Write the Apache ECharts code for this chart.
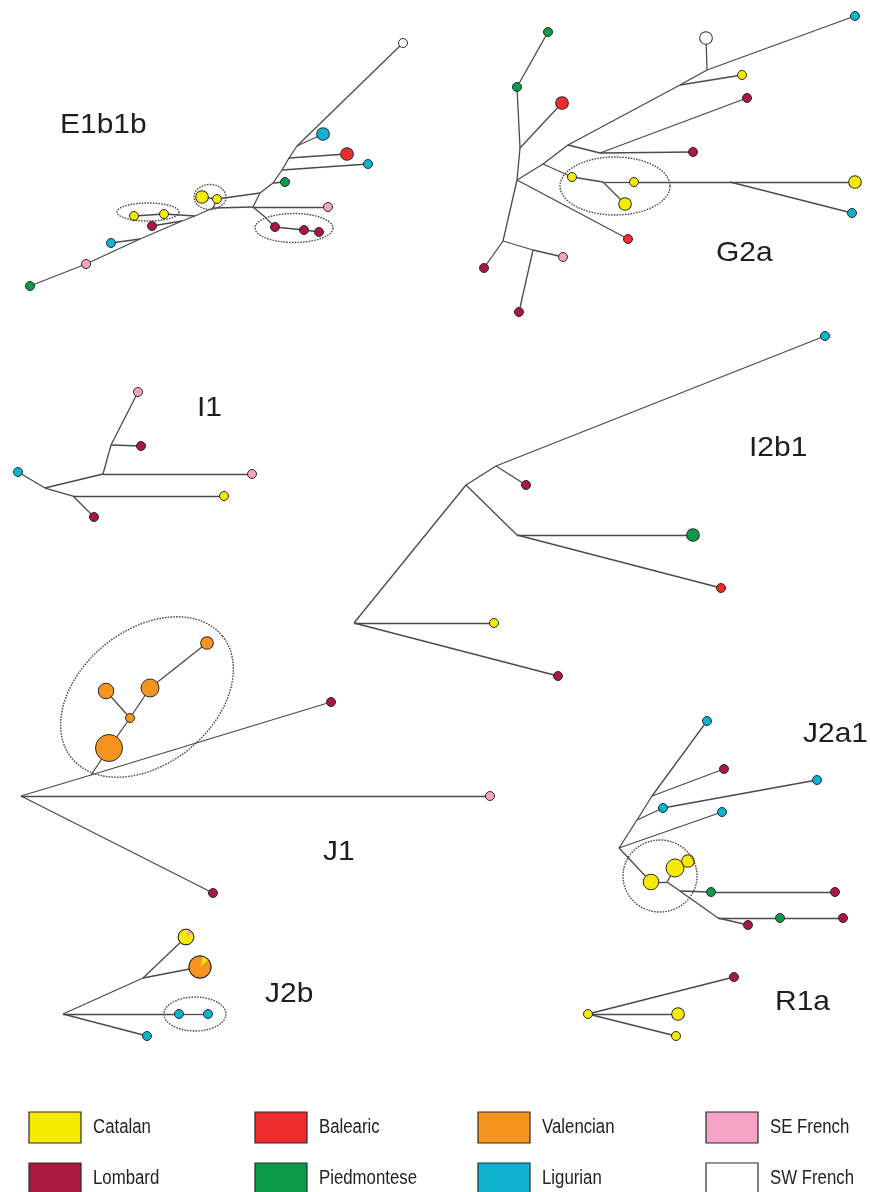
<!DOCTYPE html>
<html>
<head>
<meta charset="utf-8">
<script src="https://cdn.jsdelivr.net/npm/echarts@6/dist/echarts.min.js"></script>
<style>
  html, body { margin: 0; padding: 0; background: #ffffff; }
  #chart { width: 870px; height: 1192px; }
</style>
</head>
<body>
<div id="chart"></div>
<script>
// Populations shown in the key, column by column (two rows of four)
const POPULATIONS = ['Catalan', 'Lombard', 'Balearic', 'Piedmontese', 'Valencian', 'Ligurian', 'SE French', 'SW French'];

const PALETTE = {
  'Catalan': '#f6ea00',
  'Balearic': '#ee2b2d',
  'Valencian': '#f79420',
  'SE French': '#f5a3c7',
  'Lombard': '#a8183f',
  'Piedmontese': '#0a9a48',
  'Ligurian': '#0cb2cf',
  'SW French': '#ffffff'
};

// Haplotype networks: [id, x, y, haplotype count, population]; count 0 = median vector
const E1B1B_NODES = [
  ['w', 403, 43, 1, 'SW French'], ['j1', 297, 146, 0], ['c1', 323, 134, 2, 'Ligurian'],
  ['j2', 289, 158, 0], ['r1', 347, 154, 2, 'Balearic'], ['j3', 282, 170, 0],
  ['c2', 368, 164, 1, 'Ligurian'], ['j4', 273, 183, 0], ['g1', 285, 182, 1, 'Piedmontese'],
  ['j5', 260, 193, 0], ['y1', 217, 199, 1, 'Catalan'], ['y2', 202, 197, 2, 'Catalan'],
  ['j6', 253, 207, 0], ['p1', 328, 207, 1, 'SE French'], ['j7', 265, 217, 0],
  ['l1', 275, 227, 1, 'Lombard'], ['l2', 304, 230, 1, 'Lombard'], ['l3', 319, 232, 1, 'Lombard'],
  ['j8', 213, 208, 0], ['j9', 195, 216, 0], ['y3', 164, 214, 1, 'Catalan'],
  ['y4', 134, 216, 1, 'Catalan'], ['j10', 182, 221, 0], ['l4', 152, 226, 1, 'Lombard'],
  ['j11', 140, 239, 0], ['c3', 111, 243, 1, 'Ligurian'], ['p2', 86, 264, 1, 'SE French'],
  ['g2', 30, 286, 1, 'Piedmontese']
];
const E1B1B_LINKS = [
  ['w', 'j1'], ['j1', 'c1'], ['j1', 'j2'], ['j2', 'r1'], ['j2', 'j3'], ['j3', 'c2'],
  ['j3', 'j4'], ['j4', 'g1'], ['j4', 'j5'], ['j5', 'y1'], ['y1', 'y2'], ['j5', 'j6'],
  ['j6', 'p1'], ['j6', 'j7'], ['j7', 'l1'], ['l1', 'l2'], ['l2', 'l3'], ['j6', 'j8'],
  ['y1', 'j8'], ['j8', 'j9'], ['j9', 'y3'], ['y3', 'y4'], ['j9', 'j10'], ['j10', 'l4'],
  ['j10', 'j11'], ['j11', 'c3'], ['j11', 'p2'], ['p2', 'g2']
];

const G2A_NODES = [
  ['g1', 548, 32, 1, 'Piedmontese'], ['g2', 517, 87, 1, 'Piedmontese'], ['j1', 520, 148, 0],
  ['r1', 562, 103, 2, 'Balearic'], ['h', 517, 180, 0], ['j2', 543, 164, 0], ['j3', 568, 145, 0],
  ['j4', 680, 85, 0], ['y1', 742, 75, 1, 'Catalan'], ['j5', 707, 70, 0],
  ['w', 706, 38, 2, 'SW French'], ['c1', 855, 16, 1, 'Ligurian'], ['j6', 600, 153, 0],
  ['l1', 747, 98, 1, 'Lombard'], ['l2', 693, 152, 1, 'Lombard'], ['y2', 572, 177, 1, 'Catalan'],
  ['j7', 603, 182, 0], ['y3', 634, 182, 1, 'Catalan'], ['y4', 625, 204, 2, 'Catalan'],
  ['j8', 730, 182, 0], ['y5', 855, 182, 2, 'Catalan'], ['c2', 852, 213, 1, 'Ligurian'],
  ['r2', 628, 239, 1, 'Balearic'], ['j9', 503, 241, 0], ['l3', 484, 268, 1, 'Lombard'],
  ['j10', 533, 250, 0], ['p1', 563, 257, 1, 'SE French'], ['l4', 519, 312, 1, 'Lombard']
];
const G2A_LINKS = [
  ['g1', 'g2'], ['g2', 'j1'], ['j1', 'r1'], ['j1', 'h'], ['h', 'j2'], ['j2', 'j3'],
  ['j3', 'j4'], ['j4', 'y1'], ['j4', 'j5'], ['j5', 'w'], ['j5', 'c1'], ['j3', 'j6'],
  ['j6', 'l1'], ['j6', 'l2'], ['j2', 'y2'], ['y2', 'j7'], ['j7', 'y3'], ['y3', 'j8'],
  ['j8', 'y5'], ['j8', 'c2'], ['j7', 'y4'], ['h', 'r2'], ['h', 'j9'], ['j9', 'l3'],
  ['j9', 'j10'], ['j10', 'p1'], ['j10', 'l4']
];

const I1_NODES = [
  ['p1', 138, 392, 1, 'SE French'], ['l1', 141, 446, 1, 'Lombard'], ['j1', 111, 445, 0],
  ['j2', 103, 474, 0], ['p2', 252, 474, 1, 'SE French'], ['c1', 18, 472, 1, 'Ligurian'],
  ['j3', 45, 488, 0], ['j4', 73, 496, 0], ['y1', 224, 496, 1, 'Catalan'],
  ['l2', 94, 517, 1, 'Lombard']
];
const I1_LINKS = [
  ['c1', 'j3'], ['j3', 'j2'], ['j2', 'j1'], ['j1', 'p1'], ['j1', 'l1'], ['j2', 'p2'],
  ['j3', 'j4'], ['j4', 'y1'], ['j4', 'l2']
];

const I2B1_NODES = [
  ['c1', 825, 336, 1, 'Ligurian'], ['j1', 496, 466, 0], ['l1', 526, 485, 1, 'Lombard'],
  ['j2', 466, 485, 0], ['j3', 517, 535, 0], ['g1', 693, 535, 2, 'Piedmontese'],
  ['r1', 721, 588, 1, 'Balearic'], ['h', 354, 623, 0], ['y1', 494, 623, 1, 'Catalan'],
  ['l2', 558, 676, 1, 'Lombard']
];
const I2B1_LINKS = [
  ['h', 'j2'], ['j2', 'j1'], ['j1', 'c1'], ['j1', 'l1'], ['j2', 'j3'], ['j3', 'g1'],
  ['j3', 'r1'], ['h', 'y1'], ['h', 'l2']
];

const J1_NODES = [
  ['h', 21, 796, 0], ['j1', 91, 775, 0], ['l1', 331, 702, 1, 'Lombard'],
  ['p1', 490, 796, 1, 'SE French'], ['l2', 213, 893, 1, 'Lombard'],
  ['v1', 109, 748, 9, 'Valencian'], ['v2', 130, 718, 1, 'Valencian'],
  ['v3', 106, 691, 3, 'Valencian'], ['v4', 150, 688, 4, 'Valencian'],
  ['v5', 207, 643, 2, 'Valencian']
];
const J1_LINKS = [
  ['h', 'j1'], ['j1', 'l1'], ['h', 'p1'], ['h', 'l2'], ['j1', 'v1'], ['v1', 'v2'],
  ['v2', 'v3'], ['v2', 'v4'], ['v4', 'v5']
];

const J2A1_NODES = [
  ['h', 619, 848, 0], ['j1', 637, 820, 0], ['j2', 652, 796, 0],
  ['c1', 707, 721, 1, 'Ligurian'], ['l1', 724, 769, 1, 'Lombard'], ['c2', 663, 808, 1, 'Ligurian'],
  ['c3', 817, 780, 1, 'Ligurian'], ['c4', 722, 812, 1, 'Ligurian'], ['y1', 651, 882, 3, 'Catalan'],
  ['j3', 667, 882, 0], ['y2', 675, 868, 4, 'Catalan'], ['y3', 688, 861, 2, 'Catalan'],
  ['j4', 680, 891, 0], ['g1', 711, 892, 1, 'Piedmontese'], ['l2', 835, 892, 1, 'Lombard'],
  ['j5', 718, 918, 0], ['g2', 780, 918, 1, 'Piedmontese'], ['l3', 843, 918, 1, 'Lombard'],
  ['l4', 748, 925, 1, 'Lombard']
];
const J2A1_LINKS = [
  ['h', 'j1'], ['j1', 'j2'], ['j2', 'c1'], ['j2', 'l1'], ['j1', 'c2'], ['c2', 'c3'],
  ['h', 'c4'], ['h', 'y1'], ['y1', 'j3'], ['j3', 'y2'], ['y2', 'y3'], ['j3', 'j4'],
  ['j4', 'g1'], ['g1', 'l2'], ['j4', 'j5'], ['j5', 'g2'], ['g2', 'l3'], ['j5', 'l4']
];

const J2B_NODES = [
  ['h', 63, 1014, 0], ['j1', 143, 978, 0], ['m1', 186, 937, 3, 'Catalan'],
  ['m2', 200, 967, 6, 'Valencian'], ['c1', 179, 1014, 1, 'Ligurian'],
  ['c2', 208, 1014, 1, 'Ligurian'], ['c3', 147, 1036, 1, 'Ligurian']
];
const J2B_LINKS = [
  ['h', 'j1'], ['j1', 'm1'], ['j1', 'm2'], ['h', 'c1'], ['c1', 'c2'], ['h', 'c3']
];
// Shared haplotypes in J2b: [node id, [population, share], ...]
const J2B_SHARED = [
  ['m1', ['SE French', 0.12], ['Catalan', 0.88]],
  ['m2', ['Catalan', 0.10], ['Valencian', 0.90]]
];

const R1A_NODES = [
  ['y1', 588, 1014, 1, 'Catalan'], ['l1', 734, 977, 1, 'Lombard'],
  ['y2', 678, 1014, 2, 'Catalan'], ['y3', 676, 1036, 1, 'Catalan']
];
const R1A_LINKS = [['y1', 'l1'], ['y1', 'y2'], ['y1', 'y3']];

// Haplotype clusters circled with dotted outlines: [cx, cy, rx, ry, tilt in degrees]
const CLUSTERS = [
  [148, 212, 31, 9, 0], [210, 197, 16, 12.5, 0], [294, 228, 39, 14.5, 0],
  [615, 186, 55, 29, 0],
  [147, 697, 97, 67, 39],
  [660, 876, 37, 36, 0],
  [195, 1014, 31, 17, 0]
];

// Haplogroup names
const HAPLOGROUPS = [
  ['E1b1b', 60, 125], ['G2a', 716, 253], ['I1', 197, 408], ['I2b1', 749, 448],
  ['J1', 323, 852], ['J2a1', 803, 734], ['J2b', 265, 994], ['R1a', 775, 1002]
];

const NODE_UNIT = 9;   // symbol diameter for a single haplotype
const nodeSize = n => (n ? NODE_UNIT * Math.sqrt(n) : 0);

function networkSeries(nodes, links) {
  return {
    type: 'graph',
    coordinateSystem: 'cartesian2d',
    layout: 'none',
    symbol: 'circle',
    silent: true,
    z: 3,
    data: nodes.map(n => ({
      name: n[0],
      value: [n[1], n[2]],
      symbolSize: nodeSize(n[3]),
      itemStyle: {
        color: n[4] ? PALETTE[n[4]] : '#444',
        borderColor: '#2b2b2b',
        borderWidth: 1
      }
    })),
    links: links.map(l => ({ source: l[0], target: l[1] })),
    lineStyle: { color: '#4a4a4a', width: 1.3, opacity: 1, curveness: 0 },
    label: { show: false },
    emphasis: { disabled: true }
  };
}

const NETWORKS = [
  [E1B1B_NODES, E1B1B_LINKS], [G2A_NODES, G2A_LINKS], [I1_NODES, I1_LINKS],
  [I2B1_NODES, I2B1_LINKS], [J1_NODES, J1_LINKS], [J2A1_NODES, J2A1_LINKS],
  [J2B_NODES, J2B_LINKS], [R1A_NODES, R1A_LINKS]
];

// Shared haplotypes drawn as small pies over their nodes
const sharedNodes = J2B_SHARED.map(s => {
  const node = J2B_NODES.find(n => n[0] === s[0]);
  return { x: node[1], y: node[2], count: node[3], parts: s.slice(1) };
});

const pieSeries = {
  type: 'custom',
  coordinateSystem: 'cartesian2d',
  silent: true,
  z: 5,
  data: sharedNodes.map(s => [s.x, s.y]),
  renderItem: function (params, api) {
    const s = sharedNodes[params.dataIndex];
    const c = api.coord([api.value(0), api.value(1)]);
    const r = nodeSize(s.count) / 2;
    let a = -75 * Math.PI / 180;
    const children = s.parts.map(p => {
      const span = p[1] * Math.PI * 2;
      const el = {
        type: 'sector',
        shape: { cx: c[0], cy: c[1], r0: 0, r: r, startAngle: a, endAngle: a + span, clockwise: true },
        style: { fill: PALETTE[p[0]], stroke: null }
      };
      a += span;
      return el;
    });
    children.push({
      type: 'circle',
      shape: { cx: c[0], cy: c[1], r: r },
      style: { fill: null, stroke: '#2b2b2b', lineWidth: 1 }
    });
    return { type: 'group', children: children };
  }
};

const clusterSeries = {
  type: 'custom',
  coordinateSystem: 'cartesian2d',
  silent: true,
  z: 4,
  data: CLUSTERS,
  renderItem: function (params, api) {
    const cx = api.value(0), cy = api.value(1);
    const rx = api.value(2), ry = api.value(3);
    const t = api.value(4) * Math.PI / 180;
    const pts = [];
    for (let i = 0; i < 120; i++) {
      const u = i / 120 * Math.PI * 2;
      const dx = rx * Math.cos(u), dy = ry * Math.sin(u);
      pts.push(api.coord([
        cx + dx * Math.cos(t) + dy * Math.sin(t),
        cy - dx * Math.sin(t) + dy * Math.cos(t)
      ]));
    }
    return {
      type: 'polygon',
      shape: { points: pts },
      style: { fill: null, stroke: '#4a4a4a', lineWidth: 1.4, lineDash: [1.6, 1.2] }
    };
  }
};

const labelSeries = {
  type: 'custom',
  coordinateSystem: 'cartesian2d',
  silent: true,
  z: 6,
  data: HAPLOGROUPS.map(h => [h[1], h[2]]),
  renderItem: function (params, api) {
    const c = api.coord([api.value(0), api.value(1)]);
    return {
      type: 'text',
      x: c[0],
      y: c[1],
      scaleX: 1.07,
      style: {
        text: HAPLOGROUPS[params.dataIndex][0],
        fontSize: 28,
        fontFamily: '"Liberation Sans", Arial, sans-serif',
        fill: '#1e1e1e',
        align: 'left',
        verticalAlign: 'middle'
      }
    };
  }
};

// Key: colour swatches with population names, two rows of four
const KEY_COLUMNS = [29, 255, 478, 706];
const KEY_ROWS = [1112, 1163];
const SWATCH_W = 52, SWATCH_H = 31;
const keyElements = [];
POPULATIONS.forEach((p, i) => {
  const left = KEY_COLUMNS[Math.floor(i / 2)];
  const top = KEY_ROWS[i % 2];
  keyElements.push({
    type: 'rect',
    x: left, y: top,
    shape: { x: 0, y: 0, width: SWATCH_W, height: SWATCH_H },
    style: { fill: PALETTE[p], stroke: '#2b2b2b', lineWidth: 1.2 },
    silent: true
  });
  keyElements.push({
    type: 'text',
    x: left + 64, y: top + SWATCH_H / 2,
    scaleX: 0.84,
    style: {
      text: p,
      fontSize: 20,
      fontFamily: '"Liberation Sans", Arial, sans-serif',
      fill: '#222',
      align: 'left',
      verticalAlign: 'middle'
    },
    silent: true
  });
});

const chart = echarts.init(document.getElementById('chart'), null, { renderer: 'canvas' });
chart.setOption({
  animation: false,
  backgroundColor: '#ffffff',
  grid: { left: 0, right: 0, top: 0, bottom: 0 },
  xAxis: { type: 'value', min: 0, max: 870, show: false },
  yAxis: { type: 'value', min: 0, max: 1192, inverse: true, show: false },
  graphic: { elements: keyElements },
  series: NETWORKS.map(n => networkSeries(n[0], n[1]))
    .concat([clusterSeries, pieSeries, labelSeries])
});
</script>
</body>
</html>
